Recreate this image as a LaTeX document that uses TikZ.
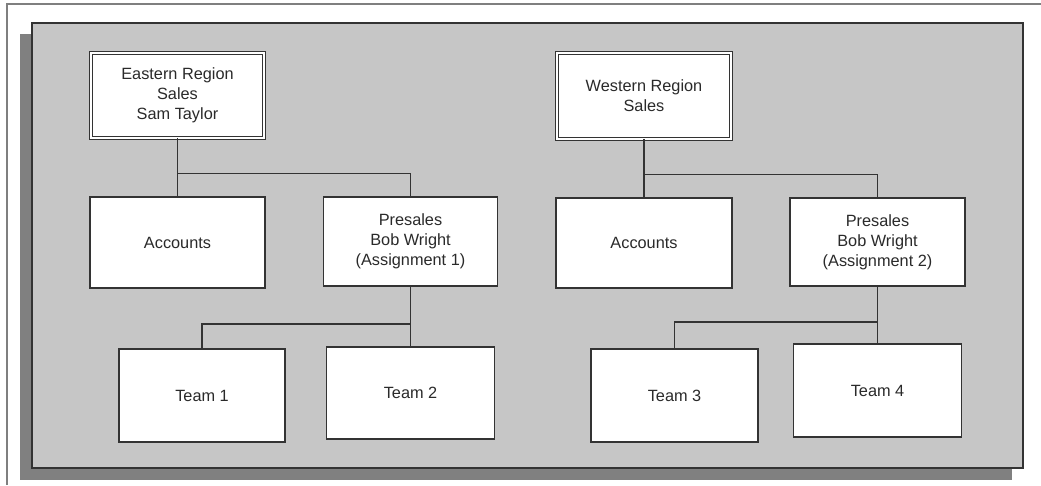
\documentclass[tikz,border=0pt]{standalone}
\usepackage{fontspec}
\setmainfont{Liberation Sans}
\definecolor{panelgray}{HTML}{C6C6C6}
\definecolor{shadowgray}{HTML}{808080}
\definecolor{framegray}{HTML}{7F7F7F}
\definecolor{edgedark}{HTML}{333333}
\definecolor{txt}{HTML}{2A2A2A}
\tikzset{
  box/.style={draw=edgedark, line width=1.4pt, fill=white, inner sep=0pt, outer sep=0pt,
    align=center, text=txt, font=\fontsize{16.3}{20}\selectfont},
  headbox/.style={box, double=white, double distance=2.2pt, line width=1.1pt},
  conn/.style={draw=edgedark, line width=1.4pt},
}
\begin{document}
\begin{tikzpicture}[x=1pt, y=-1pt]
\useasboundingbox (0,0) rectangle (1041,485);
% outer frame
\draw[framegray, line width=2pt] (7,485) -- (7,4) -- (1041,4);
% shadow and panel
\fill[shadowgray] (20,34) rectangle (1012,480);
\draw[edgedark, line width=1.4pt, fill=panelgray] (32,23) rectangle (1023,468);
% East
\node[headbox, minimum width=172.5pt, minimum height=84.5pt] (etop) at (177.5,95.5) {Eastern Region\\Sales\\Sam Taylor};
\node[box, minimum width=175pt, minimum height=91pt] (eacc) at (177.5,242.5) {Accounts};
\node[box, minimum width=174pt, minimum height=89pt] (epre) at (410.5,241.5) {Presales\\Bob Wright\\(Assignment 1)};
\node[box, minimum width=166pt, minimum height=93pt] (t1) at (202,395.5) {Team 1};
\node[box, minimum width=168pt, minimum height=92pt] (t2) at (410.5,393) {Team 2};
% West
\node[headbox, minimum width=173.5pt, minimum height=85.5pt] (wtop) at (644,96) {Western Region\\Sales};
\node[box, minimum width=176pt, minimum height=90pt] (wacc) at (644,243) {Accounts};
\node[box, minimum width=175pt, minimum height=88pt] (wpre) at (877.5,242) {Presales\\Bob Wright\\(Assignment 2)};
\node[box, minimum width=167pt, minimum height=93pt] (t3) at (674.5,395.5) {Team 3};
\node[box, minimum width=168pt, minimum height=93pt] (t4) at (877.5,390.5) {Team 4};
% connectors
\draw[conn] (etop.south) -- (eacc.north);
\draw[conn] (etop.south) ++(0,36) -| (epre.north);
\draw[conn] (epre.south) -- (t2.north);
\draw[conn] (epre.south) ++(0,38) -| (t1.north);
\draw[conn] (wtop.south) -- (wacc.north);
\draw[conn] (wtop.south) ++(0,36) -| (wpre.north);
\draw[conn] (wpre.south) -- (t4.north);
\draw[conn] (wpre.south) ++(0,36) -| (t3.north);
\end{tikzpicture}
\end{document}
